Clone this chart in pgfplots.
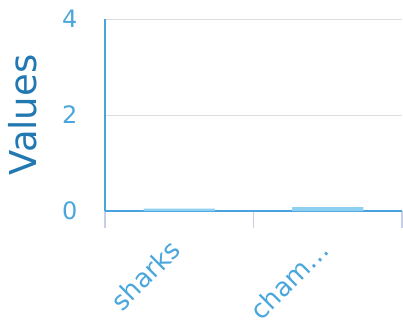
\documentclass[border=0pt]{standalone}
\usepackage{fontspec}
\setmainfont{DejaVu Sans}
\usepackage{pgfplots}
\pgfplotsset{compat=1.18}
\definecolor{tickblue}{HTML}{4AA6DC}
\definecolor{labelblue}{HTML}{2279B2}
\definecolor{axisblue}{HTML}{4AA3DF}
\definecolor{barblue}{HTML}{8DD0F2}
\definecolor{gridgray}{HTML}{DDDDDD}
\definecolor{sepcol}{HTML}{C8CEE6}
\begin{document}
\begin{tikzpicture}
\begin{axis}[
    scale only axis,
    width=297bp, height=192bp,
    ybar, bar width=0.48,
    xmin=-0.5, xmax=1.5,
    ymin=0, ymax=4,
    xtick={0,1},
    xticklabels={sharks,cham…},
    minor xtick={-0.5,0.5,1.5},
    ytick={0,2,4},
    /pgf/number format/assume math mode=true,
    axis x line=bottom, axis y line=left,
    axis line style={axisblue, line width=1.6bp, -},
    ymajorgrids=true,
    grid style={gridgray, line width=0.8bp},
    major tick length=0pt,
    minor tick length=17bp,
    tick align=outside,
    minor tick style={sepcol, line width=1.2bp},
    ticklabel style={text=tickblue},
    xticklabel style={font=\fontsize{26bp}{30bp}\selectfont, rotate=45, anchor=east, xshift=-23bp, yshift=-21.5bp},
    yticklabel style={font=\fontsize{24bp}{28bp}\selectfont, xshift=-24bp},
    ylabel={Values},
    ylabel style={font=\fontsize{37bp}{40bp}\selectfont, text=labelblue, yshift=18bp},
    ]
\addplot[fill=barblue, draw=none] coordinates {(0,0.05) (1,0.08)};
\end{axis}
\pgfresetboundingbox
\path ([shift={(-105bp,-115bp)}]current axis.south west) rectangle ++(403bp,326bp);
\end{tikzpicture}
\end{document}
